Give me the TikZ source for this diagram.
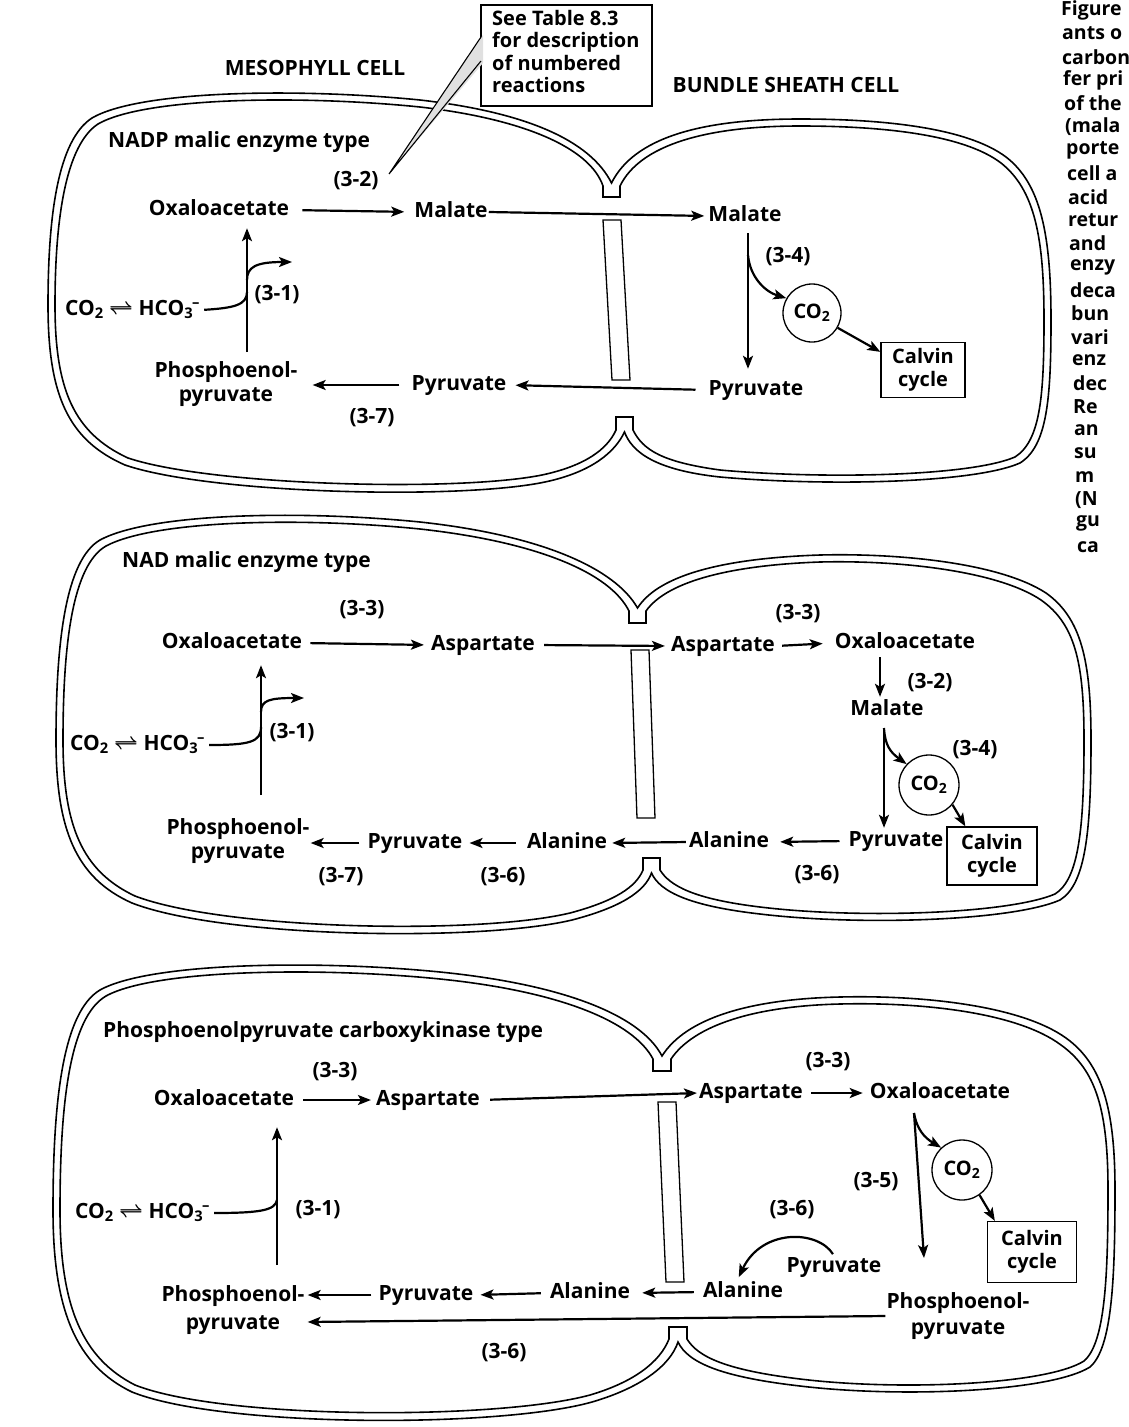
\documentclass[tikz,border=0pt]{standalone}
\usepackage{fontspec}
\setmainfont{Open Sans}
\usetikzlibrary{arrows.meta}

\newcommand{\cotwo}{CO\textsubscript{2}}
\newcommand{\bicarb}{HCO\textsubscript{3}\kern-1pt\textsuperscript{–}}
\newcommand{\eqco}{\cotwo\ {\boldmath$\rightleftharpoons$} \bicarb}

\begin{document}
\begin{tikzpicture}[x=1pt, y=-1pt, font=\bfseries\fontsize{21}{23.5}\selectfont,
    >={Stealth[length=13pt, width=10pt, inset=3pt]},
    lbl/.style={inner sep=1pt, text height=15pt, text depth=5pt},
    rxn/.style={line width=2.2pt, ->},
    wall/.style={line width=1.6pt},
    strip/.style={line width=1.3pt},
    calvin/.style={draw, line width=1.3pt, align=center, inner sep=1pt,
      font=\bfseries\fontsize{20}{23}\selectfont},
    gas/.style={draw, circle, line width=1.3pt, inner sep=0pt,
      font=\bfseries\fontsize{20}{23}\selectfont},
    ttl/.style={anchor=west, inner sep=0pt, font=\bfseries\fontsize{21}{23}\selectfont}]
\useasboundingbox (0,0) rectangle (1129,1427);

%% cell walls: outer line and inner line of each pair of cells
\draw[wall] (611.5,183)
  .. controls (590,140) and (525,112) .. (420,100)
  .. controls (300,88) and (140,90) .. (92,118)
  .. controls (58,140) and (48,215) .. (48,305)
  .. controls (48,395) and (68,440) .. (125,465)
  .. controls (210,494) and (460,500) .. (545,482)
  .. controls (592,472) and (615,452) .. (624.5,432)
  .. controls (632,452) and (655,470) .. (720,477)
  .. controls (820,486) and (972,484) .. (1020,463)
  .. controls (1047,446) and (1051,400) .. (1051,320)
  .. controls (1051,235) and (1041,184) .. (1006,157)
  .. controls (966,127) and (880,119) .. (800,119)
  .. controls (700,119) and (634,138) .. (611.5,183) -- cycle;
\draw[wall] (603,197) -- (603,186)
  .. controls (590,148) and (524,119) .. (420,107)
  .. controls (302,95) and (145,97) .. (98,124)
  .. controls (66,145) and (55,218) .. (55,305)
  .. controls (55,390) and (74,433) .. (128,458)
  .. controls (212,486) and (458,492) .. (542,475)
  .. controls (584,466) and (607,450) .. (616,430) -- (616,417)
  -- (633,417) -- (633,430)
  .. controls (643,450) and (662,462) .. (720,470)
  .. controls (818,479) and (968,477) .. (1015,457)
  .. controls (1040,441) and (1044,398) .. (1044,320)
  .. controls (1044,238) and (1035,190) .. (1001,163)
  .. controls (963,134) and (880,126) .. (800,126)
  .. controls (706,126) and (640,145) .. (620,186) -- (620,197) -- cycle;
\draw[strip] (603,220) -- (621,220) -- (630,380) -- (612,380) -- cycle;

\draw[wall] (637.5,608)
  .. controls (615,568) and (540,535) .. (420,522)
  .. controls (300,510) and (150,513) .. (100,540)
  .. controls (66,560) and (56,640) .. (56,740)
  .. controls (56,830) and (76,878) .. (132,903)
  .. controls (222,938) and (480,942) .. (572,920)
  .. controls (622,907) and (645,891) .. (651.5,873)
  .. controls (660,892) and (690,906) .. (760,914)
  .. controls (860,926) and (1012,921) .. (1060,900)
  .. controls (1086,884) and (1091,830) .. (1091,740)
  .. controls (1091,660) and (1081,618) .. (1046,593)
  .. controls (1000,563) and (900,553) .. (820,555)
  .. controls (730,558) and (660,573) .. (637.5,608) -- cycle;
\draw[wall] (629,623) -- (629,611)
  .. controls (610,573) and (538,542) .. (420,529)
  .. controls (302,517) and (155,520) .. (106,546)
  .. controls (73,565) and (63,642) .. (63,740)
  .. controls (63,826) and (82,871) .. (135,896)
  .. controls (224,930) and (478,935) .. (570,913)
  .. controls (615,901) and (636,887) .. (643,870) -- (643,858)
  -- (660,858) -- (660,870)
  .. controls (670,886) and (694,899) .. (760,907)
  .. controls (858,919) and (1008,914) .. (1055,894)
  .. controls (1079,879) and (1084,828) .. (1084,740)
  .. controls (1084,662) and (1075,624) .. (1041,600)
  .. controls (998,571) and (900,560) .. (820,562)
  .. controls (735,565) and (668,580) .. (646,611) -- (646,623) -- cycle;
\draw[strip] (631,650) -- (649,650) -- (655,818) -- (637,818) -- cycle;

\draw[wall] (662,1056)
  .. controls (640,1014) and (560,984) .. (440,972)
  .. controls (320,960) and (150,962) .. (100,990)
  .. controls (63,1012) and (53,1100) .. (53,1210)
  .. controls (53,1310) and (76,1365) .. (132,1392)
  .. controls (222,1428) and (500,1428) .. (592,1402)
  .. controls (640,1388) and (670,1366) .. (678,1342)
  .. controls (688,1363) and (722,1377) .. (800,1386)
  .. controls (900,1398) and (1050,1392) .. (1090,1367)
  .. controls (1112,1348) and (1115,1280) .. (1115,1190)
  .. controls (1115,1108) and (1102,1064) .. (1066,1038)
  .. controls (1020,1005) and (920,995) .. (840,997)
  .. controls (750,999) and (686,1018) .. (662,1056) -- cycle;
\draw[wall] (653,1071) -- (653,1059)
  .. controls (633,1021) and (558,991) .. (440,979)
  .. controls (322,967) and (155,969) .. (106,996)
  .. controls (70,1017) and (60,1102) .. (60,1210)
  .. controls (60,1306) and (82,1358) .. (135,1385)
  .. controls (224,1420) and (498,1420) .. (590,1395)
  .. controls (634,1382) and (660,1362) .. (669,1339) -- (669,1327)
  -- (687,1327) -- (687,1339)
  .. controls (698,1357) and (726,1370) .. (800,1379)
  .. controls (898,1391) and (1046,1385) .. (1084,1361)
  .. controls (1105,1343) and (1108,1278) .. (1108,1190)
  .. controls (1108,1110) and (1096,1070) .. (1061,1045)
  .. controls (1017,1012) and (920,1002) .. (840,1004)
  .. controls (755,1006) and (694,1025) .. (671,1059) -- (671,1071) -- cycle;
\draw[strip] (658,1102) -- (676,1102) -- (684,1282) -- (666,1282) -- cycle;

%% headings and callout
\node[ttl, anchor=center] (meso) at (315,68) {MESOPHYLL CELL};
\node[ttl, anchor=center] (bundle) at (786,85) {BUNDLE SHEATH CELL};
\filldraw[fill=white, line width=1.3pt] (481,5) rectangle (652,106);
\fill[black!12] (389,174) -- (483,35) -- (483,63) -- cycle;
\draw[line width=1.1pt] (389,174) -- (481,37) (389,174) -- (481,61);
\node[anchor=north west, align=left, inner sep=0pt, font=\bfseries\fontsize{20}{22.5}\selectfont]
  (seetab) at (492,10) {See Table 8.3\\for description\\of numbered\\reactions};

%% NADP malic enzyme type
\node[ttl] (type1) at (108,142) {NADP malic enzyme type};
\node[lbl] (r32a) at (356,181) {(3-2)};
\node[lbl] (oaa1) at (219,210) {Oxaloacetate};
\node[lbl] (mal1) at (451,212) {Malate};
\node[lbl] (bsmal1) at (745,216) {Malate};
\node[lbl] (r34a) at (788,257) {(3-4)};
\node[gas, minimum size=58pt] (co2a) at (812,313) {\cotwo};
\node[calvin, minimum width=84pt, minimum height=55pt] (calvin1) at (923,370) {Calvin\\cycle};
\node[lbl] (bspyr1) at (756,390) {Pyruvate};
\node[lbl] (pyr1) at (459,385) {Pyruvate};
\node[align=center, inner sep=1pt] (pep1) at (226,384) {Phosphoenol-\\pyruvate};
\node[lbl] (r37a) at (372,418) {(3-7)};
\node[lbl] (r31a) at (277,295) {(3-1)};
\node[lbl, anchor=west] (hco1) at (64,310) {\eqco};
\coordinate (pepup1) at (247,352);
\coordinate (j1a) at (247,292);
\coordinate (j1b) at (247,280);
\coordinate (br1) at (292,262);
\coordinate (bsv1) at (748,233);
\coordinate (bsj1) at (748,255);

\draw[rxn, shorten <=12pt, shorten >=9pt] (oaa1.east) -- (mal1.west);
\draw[rxn, shorten >=3pt] (mal1.east) -- (bsmal1.west);
\draw[rxn, shorten >=7pt] (pepup1) -- (pepup1 |- oaa1.south);
\draw[line width=2.2pt, shorten <=3pt] (hco1.east) .. controls (234,308) and (247,305) .. (j1a);
\draw[rxn] (j1b) .. controls (247,267) and (256,262) .. (br1);
\draw[rxn, shorten >=10pt] (bsv1) -- (bsv1 |- bspyr1.north);
\draw[rxn] (bsj1) .. controls (750,278) and (766,292) .. (co2a.150);
\draw[rxn] (co2a.-30) -- ([yshift=-10pt]calvin1.north west);
\draw[rxn, shorten <=12pt, shorten >=8pt] (bspyr1.west) -- (pyr1.east);
\draw[rxn, shorten <=11pt, shorten >=14pt] (pyr1.west) -- (pyr1.west -| pep1.east);

%% NAD malic enzyme type
\node[ttl] (type2) at (122,562) {NAD malic enzyme type};
\node[lbl] (r33a) at (362,610) {(3-3)};
\node[lbl] (oaa2) at (232,643) {Oxaloacetate};
\node[lbl] (asp2) at (483,645) {Aspartate};
\node[lbl] (bsasp2) at (723,646) {Aspartate};
\node[lbl] (r33b) at (798,614) {(3-3)};
\node[lbl] (bsoaa2) at (905,643) {Oxaloacetate};
\node[lbl] (r32b) at (930,683) {(3-2)};
\node[lbl] (bsmal2) at (887,710) {Malate};
\node[lbl] (r34b) at (975,750) {(3-4)};
\node[gas, minimum size=60pt] (co2b) at (929,785) {\cotwo};
\node[calvin, minimum width=90pt, minimum height=58pt] (calvin2) at (992,856) {Calvin\\cycle};
\node[lbl] (bspyr2) at (896,841) {Pyruvate};
\node[lbl] (bsala2) at (729,842) {Alanine};
\node[lbl] (ala2) at (567,843) {Alanine};
\node[lbl] (pyr2) at (415,843) {Pyruvate};
\node[align=center, inner sep=1pt] (pep2) at (238,841) {Phosphoenol-\\pyruvate};
\node[lbl] (r37b) at (341,877) {(3-7)};
\node[lbl] (r36a) at (503,877) {(3-6)};
\node[lbl] (r36b) at (817,875) {(3-6)};
\node[lbl] (r31b) at (292,733) {(3-1)};
\node[lbl, anchor=west] (hco2) at (69,745) {\eqco};
\coordinate (pepup2) at (261,795);
\coordinate (j2a) at (261,727);
\coordinate (j2b) at (261,712);
\coordinate (br2) at (304,698);
\coordinate (bsk2) at (880,657);
\coordinate (bsv2) at (884,728);

\draw[rxn, shorten <=7pt, shorten >=6pt] (oaa2.east) -- (asp2.west);
\draw[rxn, shorten <=8pt, shorten >=5pt] (asp2.east) -- (bsasp2.west);
\draw[rxn, shorten <=6pt, shorten >=11pt] (bsasp2.east) -- (bsoaa2.west);
\draw[rxn, shorten >=2pt] (bsk2) -- (bsk2 |- bsmal2.north);
\draw[rxn, shorten >=11pt] (pepup2) -- (pepup2 |- oaa2.south);
\draw[line width=2.2pt, shorten <=3pt] (hco2.east) .. controls (250,745) and (261,742) .. (j2a);
\draw[rxn] (j2b) .. controls (261,700) and (270,698) .. (br2);
\draw[rxn, shorten >=2pt] (bsv2) -- (bsv2 |- bspyr2.north);
\draw[rxn] (bsv2) .. controls (885,745) and (890,752) .. (co2b.137);
\draw[rxn] (co2b.-40) -- ([xshift=19pt]calvin2.north west);
\draw[rxn, shorten <=8pt, shorten >=10pt] (bspyr2.west) -- (bsala2.east);
\draw[rxn, shorten <=2pt, shorten >=4pt] (bsala2.west) -- (ala2.east);
\draw[rxn, shorten <=10pt, shorten >=6pt] (ala2.west) -- (pyr2.east);
\draw[rxn, shorten <=7pt] (pyr2.west) -- (pyr2.west -| pep2.east);

%% Phosphoenolpyruvate carboxykinase type
\node[ttl] (type3) at (103,1032) {Phosphoenolpyruvate carboxykinase type};
\node[lbl] (r33c) at (335,1072) {(3-3)};
\node[lbl] (oaa3) at (224,1100) {Oxaloacetate};
\node[lbl] (asp3) at (428,1100) {Aspartate};
\node[lbl] (bsasp3) at (751,1093) {Aspartate};
\node[lbl] (r33d) at (828,1062) {(3-3)};
\node[lbl] (bsoaa3) at (940,1093) {Oxaloacetate};
\node[gas, minimum size=60pt] (co2c) at (962,1170) {\cotwo};
\node[lbl] (r35) at (876,1182) {(3-5)};
\node[calvin, minimum width=89pt, minimum height=61pt] (calvin3) at (1032,1252) {Calvin\\cycle};
\node[lbl] (r36c) at (792,1210) {(3-6)};
\node[lbl] (bspyr3) at (834,1267) {Pyruvate};
\node[lbl] (bsala3) at (743,1292) {Alanine};
\node[lbl] (ala3) at (590,1293) {Alanine};
\node[lbl] (pyr3) at (426,1295) {Pyruvate};
\node[align=center, inner sep=1pt] (pep3) at (233,1310) {Phosphoenol-\\[5pt]pyruvate};
\node[align=center, inner sep=1pt] (bspep3) at (958,1316) {Phosphoenol-\\[3pt]pyruvate};
\node[lbl] (r36d) at (504,1353) {(3-6)};
\node[lbl] (r31c) at (318,1210) {(3-1)};
\node[lbl, anchor=west] (hco3) at (74,1213) {\eqco};
\coordinate (pepup3) at (277,1265);
\coordinate (j3a) at (277,1200);
\coordinate (bsv3) at (914,1113);
\coordinate (bsv3b) at (924,1258);

\draw[rxn, shorten <=8pt, shorten >=4pt] (oaa3.east) -- (asp3.west);
\draw[rxn, shorten <=9pt, shorten >=1pt] (asp3.east) -- (bsasp3.west);
\draw[rxn, shorten <=7pt, shorten >=6pt] (bsasp3.east) -- (bsoaa3.west);
\draw[rxn, shorten >=16pt] (pepup3) -- (pepup3 |- oaa3.south);
\draw[line width=2.2pt, shorten <=3pt] (hco3.east) .. controls (262,1213) and (275,1210) .. (j3a);
\draw[rxn] (bsv3) -- (bsv3b);
\draw[rxn] (bsv3) .. controls (917,1130) and (925,1138) .. (co2c.133);
\draw[rxn] (co2c.-55) -- ([xshift=8pt]calvin3.north west);
\draw[rxn, shorten <=2pt, shorten >=4pt] (bspyr3.north) .. controls (818,1230) and (762,1228) .. ([xshift=-6pt]bsala3.north);
\draw[rxn, shorten <=8pt, shorten >=11pt] (bsala3.west) -- (ala3.east);
\draw[rxn, shorten <=8pt, shorten >=6pt] (ala3.west) -- (pyr3.east);
\draw[rxn, shorten <=6pt, shorten >=2pt] (pyr3.west) -- (pyr3.west -| pep3.east);
\draw[rxn, shorten >=2pt] (bspep3.west) -- ([yshift=-12pt]pep3.east);

%% legend text cut off at the right edge
\foreach \cx/\cy/\ct [count=\i] in {1061/10/Figure, 1062/33/ants o, 1062/57/carbon,
    1063/80/fer pri, 1064/103/of the, 1065/127/{(mala}, 1066/150/porte, 1067/173/cell a,
    1068/197/acid, 1068/220/retur, 1069/243/and, 1070/267/enzy, 1070/290/deca,
    1071/313/bun, 1071/337/vari, 1072/360/enz, 1073/383/dec, 1073/407/Re,
    1074/430/an, 1074/453/su, 1075/477/m, 1075/500/{(N}, 1076/523/gu, 1077/547/ca}
  \node[anchor=west, inner sep=0pt, font=\bfseries\fontsize{19.5}{22}\selectfont] (cap\i) at (\cx,\cy) {\ct};
\end{tikzpicture}
\end{document}
